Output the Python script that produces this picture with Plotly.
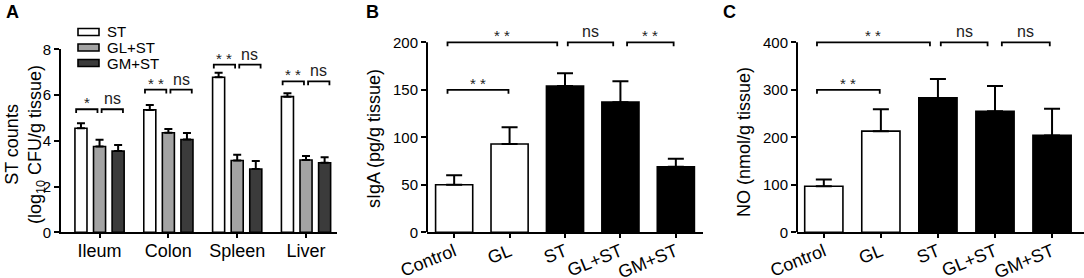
import plotly.graph_objects as go

# ---------------- data ----------------
organs = ["Ileum", "Colon", "Spleen", "Liver"]
st_counts = [4.55, 5.35, 6.78, 5.93]
st_err = [0.22, 0.22, 0.20, 0.15]
glst_counts = [3.75, 4.35, 3.14, 3.16]
glst_err = [0.30, 0.17, 0.25, 0.18]
gmst_counts = [3.55, 4.06, 2.77, 3.04]
gmst_err = [0.27, 0.28, 0.35, 0.24]

groups = ["Control", "GL", "ST", "GL+ST", "GM+ST"]
siga = [50, 93, 154, 137, 69]
siga_err = [10, 17.5, 13.5, 22, 8.5]
no_vals = [97, 213, 283, 255, 204]
no_err = [14, 46, 40, 53, 56]

# significance: panel A (per organ: ST vs GL+ST, GL+ST vs GM+ST)
sigA_labels = ["*", "* *", "* *", "* *"]
sigA_level = [5.38, 6.24, 7.33, 6.60]
# panels B / C: (x0, x1 in category units, level, label)
sigB = [(-0.12, 1.86, 200, "* *"), (2.05, 2.87, 200, "ns"), (3.12, 3.96, 200, "* *"), (-0.12, 0.98, 150, "* *")]
sigC = [(-0.12, 1.86, 400, "* *"), (2.05, 2.87, 400, "ns"), (3.12, 3.96, 400, "ns"), (-0.12, 0.98, 300, "* *")]

FONT = "Arial, Liberation Sans, sans-serif"
W, H = 1084, 278


def fx(px):
    return px / W


def fy(py):
    return (H - py) / H


fig = go.Figure()

# ---------------- panel A ----------------
bw = 0.175
centers = [-0.27, 0.0, 0.27]
seriesA = [("ST", st_counts, st_err, "white"),
           ("GL+ST", glst_counts, glst_err, "#a3a3a3"),
           ("GM+ST", gmst_counts, gmst_err, "#3b3b3b")]
xA = list(range(len(organs)))
for (name, vals, err, col), c in zip(seriesA, centers):
    fig.add_trace(go.Bar(
        x=xA, y=vals, name=name, width=bw, offset=c - bw / 2,
        marker=dict(color=col, line=dict(color="black", width=1.6)),
        error_y=dict(type="data", array=err, arrayminus=[0] * len(err), symmetric=False,
                     color="black", thickness=2, width=4),
        xaxis="x", yaxis="y", showlegend=False))

# ---------------- panels B, C ----------------
colsBC = ["white", "white", "black", "black", "black"]
xB = list(range(len(groups)))
fig.add_trace(go.Bar(x=xB, y=siga, width=0.67, name="sIgA",
                     marker=dict(color=colsBC, line=dict(color="black", width=1.6)),
                     error_y=dict(type="data", array=siga_err, arrayminus=[0] * 5, symmetric=False,
                                  color="black", thickness=2, width=8),
                     xaxis="x2", yaxis="y2", showlegend=False))
fig.add_trace(go.Bar(x=xB, y=no_vals, width=0.67, name="NO",
                     marker=dict(color=colsBC, line=dict(color="black", width=1.6)),
                     error_y=dict(type="data", array=no_err, arrayminus=[0] * 5, symmetric=False,
                                  color="black", thickness=2, width=8),
                     xaxis="x3", yaxis="y3", showlegend=False))

shapes = []
annos = []


def bracket(xref, yref, x0, x1, y, drop, label):
    shapes.append(dict(type="path", xref=xref, yref=yref,
                       path=f"M {x0},{y - drop} L {x0},{y} L {x1},{y} L {x1},{y - drop}",
                       line=dict(color="black", width=1.8)))
    star = "*" in label
    annos.append(dict(x=(x0 + x1) / 2, y=y, xref=xref, yref=yref, text=label, showarrow=False,
                      xanchor="center", yanchor="bottom", yshift=-4 if star else 0,
                      font=dict(size=15 if star else 16, color="#222222", family=FONT)))


for i, (lab, lev) in enumerate(zip(sigA_labels, sigA_level)):
    bracket("x", "y", i - 0.34, i - 0.03, lev, 0.17, lab)
    bracket("x", "y", i + 0.03, i + 0.34, lev, 0.17, "ns")
for x0, x1, lev, lab in sigB:
    bracket("x2", "y2", x0, x1, lev, 4.2, lab)
for x0, x1, lev, lab in sigC:
    bracket("x3", "y3", x0, x1, lev, 8.4, lab)

# y axis lines for B and C (stop at top tick)
shapes.append(dict(type="line", xref="x2 domain", yref="y2", x0=0, x1=0, y0=0, y1=200,
                   line=dict(color="black", width=2)))
shapes.append(dict(type="line", xref="x3 domain", yref="y3", x0=0, x1=0, y0=0, y1=400,
                   line=dict(color="black", width=2)))

# legend for panel A (drawn as swatches + labels)
for i, (name, _, _, col) in enumerate(seriesA):
    yc = 32 + 15.5 * i
    shapes.append(dict(type="rect", xref="paper", yref="paper",
                       x0=fx(78), x1=fx(99), y0=fy(yc + 3.5), y1=fy(yc - 3.5),
                       fillcolor=col, line=dict(color="black", width=1.6)))
    annos.append(dict(x=fx(105), y=fy(yc), xref="paper", yref="paper", text=name,
                      showarrow=False, xanchor="left", yanchor="middle",
                      font=dict(size=15, family=FONT, color="black")))

# titles and panel letters
annos += [
    dict(x=fx(25), y=fy(145), xref="paper", yref="paper", textangle=-90,
         text="ST counts<br>(log<sub>10</sub> CFU/g tissue)", showarrow=False,
         xanchor="center", yanchor="middle", font=dict(size=18, family=FONT, color="black")),
    dict(x=fx(374), y=fy(139), xref="paper", yref="paper", textangle=-90,
         text="sIgA (pg/g tissue)", showarrow=False,
         xanchor="center", yanchor="middle", font=dict(size=18, family=FONT, color="black")),
    dict(x=fx(744), y=fy(142), xref="paper", yref="paper", textangle=-90,
         text="NO (nmol/g tissue)", showarrow=False,
         xanchor="center", yanchor="middle", font=dict(size=18, family=FONT, color="black")),
    dict(x=fx(4), y=1, xref="paper", yref="paper", text="<b>A</b>", showarrow=False,
         xanchor="left", yanchor="top", font=dict(size=18, family=FONT, color="black")),
    dict(x=fx(364), y=1, xref="paper", yref="paper", text="<b>B</b>", showarrow=False,
         xanchor="left", yanchor="top", font=dict(size=18, family=FONT, color="black")),
    dict(x=fx(721), y=1, xref="paper", yref="paper", text="<b>C</b>", showarrow=False,
         xanchor="left", yanchor="top", font=dict(size=18, family=FONT, color="black")),
]

ydom_A = [fy(232.3), fy(49.3)]
ydom_BC = [fy(232.3), fy(28.05)]

xcommon = dict(showline=True, linecolor="black", linewidth=2, ticks="outside", ticklen=4,
               tickwidth=2, tickcolor="black", showgrid=False, zeroline=False, automargin=False,
               tickfont=dict(size=18, family=FONT, color="black"))
ycommon = dict(ticks="outside", ticklen=5, tickwidth=2, tickcolor="black", showgrid=False,
               zeroline=False, automargin=False, tickfont=dict(size=15, family=FONT, color="black"))

fig.update_layout(
    template="none",
    width=W, height=H, margin=dict(l=0, r=0, t=0, b=0, autoexpand=False),
    paper_bgcolor="white", plot_bgcolor="white",
    font=dict(family=FONT, color="black"),
    barmode="overlay", showlegend=False,
    xaxis=dict(domain=[fx(61), fx(337)], range=[-0.56, 3.45], tickvals=xA, ticktext=organs,
               anchor="y", ticklabelstandoff=-3, **xcommon),
    yaxis=dict(domain=ydom_A, range=[0, 8], tickvals=[0, 2, 4, 6, 8], showline=True,
               linecolor="black", linewidth=2, anchor="x", **ycommon),
    xaxis2=dict(domain=[fx(427), fx(703)], range=[-0.49, 4.49], tickvals=xB, ticktext=groups,
                tickangle=-22, anchor="y2", ticklabelstandoff=-4, **xcommon),
    yaxis2=dict(domain=ydom_BC, range=[0, 215], tickvals=[0, 50, 100, 150, 200], showline=False,
                anchor="x2", **ycommon),
    xaxis3=dict(domain=[fx(797), 1.0], range=[-0.47, 4.56], tickvals=xB, ticktext=groups,
                tickangle=-22, anchor="y3", ticklabelstandoff=-4, **xcommon),
    yaxis3=dict(domain=ydom_BC, range=[0, 430], tickvals=[0, 100, 200, 300, 400], showline=False,
                anchor="x3", **ycommon),
    shapes=shapes, annotations=annos,
)

fig.write_html("out.html", config={"displayModeBar": False},
               post_script="document.body.style.margin='0';")
